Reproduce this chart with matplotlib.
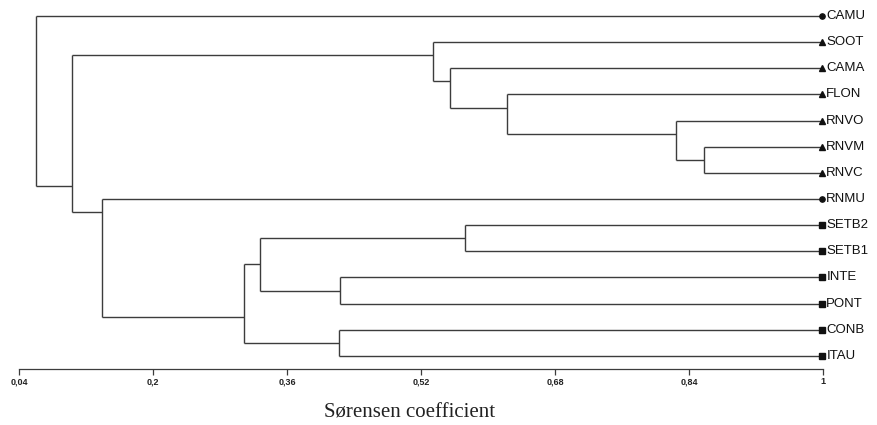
import matplotlib
matplotlib.use("Agg")
import matplotlib.pyplot as plt

# ---- data ----
leaves = ["CAMU", "SOOT", "CAMA", "FLON", "RNVO", "RNVM", "RNVC",
          "RNMU", "SETB2", "SETB1", "INTE", "PONT", "CONB", "ITAU"]
leaf_marker = ["o", "^", "^", "^", "^", "^", "^",
               "o", "s", "s", "s", "s", "s", "s"]

# merges: node name, top child, bottom child, Sørensen similarity
node_names = ["n1", "n2", "n3", "n4", "n5", "n6", "n7", "n8", "n9", "n10", "n11", "n12", "n13"]
node_top = ["RNVM", "RNVO", "FLON", "CAMA", "SOOT", "SETB2", "INTE", "CONB", "n6", "n9", "RNMU", "n5", "CAMU"]
node_bottom = ["RNVC", "n1", "n2", "n3", "n4", "SETB1", "PONT", "ITAU", "n7", "n8", "n10", "n11", "n12"]
node_height = [0.858, 0.825, 0.623, 0.555, 0.534, 0.573, 0.423, 0.422, 0.328, 0.309, 0.139, 0.103, 0.060]

xticks = [0.04, 0.2, 0.36, 0.52, 0.68, 0.84, 1.0]
xtick_labels = ["0,04", "0,2", "0,36", "0,52", "0,68", "0,84", "1"]
xlabel = "Sørensen coefficient"

# ---- figure ----
W, H = 877, 425
fig = plt.figure(figsize=(W / 100, H / 100), dpi=100)
left_px, right_px = 19, 823
top_px, bottom_px = 10, 369
ax = fig.add_axes([left_px / W, 1 - bottom_px / H,
                   (right_px - left_px) / W, (bottom_px - top_px) / H])
ax.set_xlim(0.04, 1.0)
ax.set_ylim(13.5, -0.23)

lc = "#3c3c3c"
lw = 1.0

info = {}
for i, name in enumerate(leaves):
    info[name] = (1.0, float(i), i)  # x, y-connection, first leaf index

for name, a, b, h in zip(node_names, node_top, node_bottom, node_height):
    xa, ya, fa = info[a]
    xb, yb, fb = info[b]
    ax.plot([h, h], [ya, yb], color=lc, lw=lw, solid_capstyle="butt")
    ax.plot([h, xa], [ya, ya], color=lc, lw=lw, solid_capstyle="butt")
    ax.plot([h, xb], [yb, yb], color=lc, lw=lw, solid_capstyle="butt")
    info[name] = (h, fb - 0.5, fa)

for i, (name, m) in enumerate(zip(leaves, leaf_marker)):
    ms = {"o": 3.8, "^": 4.2, "s": 3.8}[m]
    ax.plot([0.999], [i], marker=m, color="#111111", ms=ms, ls="none", clip_on=False)
    ax.text(1.004, i, name, fontsize=9.5, family="Liberation Sans", color="#111111",
            va="center", ha="left", clip_on=False)

for s in ["left", "right", "top"]:
    ax.spines[s].set_visible(False)
ax.spines["bottom"].set_color(lc)
ax.spines["bottom"].set_linewidth(0.9)
ax.set_yticks([])
ax.set_xticks(xticks)
ax.set_xticklabels(xtick_labels, fontsize=6.5, family="Liberation Sans",
                   fontweight="bold", color="#222222")
ax.tick_params(axis="x", direction="out", length=4.5, width=0.9, color=lc, pad=1.5)

fig.text(410 / W, 1 - 418 / H, xlabel, fontsize=15, family="Liberation Serif",
         ha="center", va="baseline", color="#222222")

fig.savefig("out.png", dpi=100)
